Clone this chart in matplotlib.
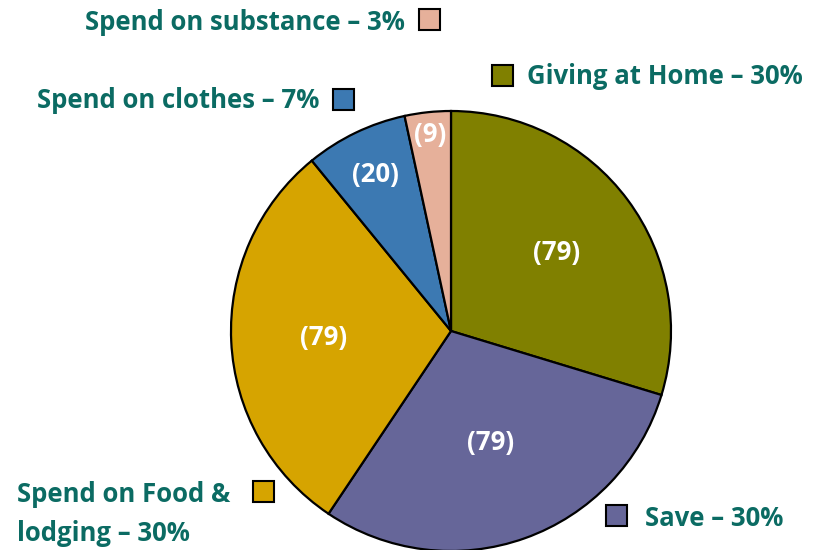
import matplotlib
matplotlib.use("Agg")
import matplotlib.pyplot as plt
from matplotlib.patches import Rectangle
import numpy as np

categories = ["Giving at Home", "Save", "Spend on Food & lodging", "Spend on clothes", "Spend on substance"]
values = [79, 79, 79, 20, 9]
pie_labels = ["(79)", "(79)", "(79)", "(20)", "(9)"]
legend_texts = ["Giving at Home – 30%", "Save – 30%", "Spend on Food &\nlodging – 30%",
                "Spend on clothes – 7%", "Spend on substance – 3%"]
colors = ["#808000", "#666699", "#D6A400", "#3C79B2", "#E6B09A"]

W, H = 834, 550
fig = plt.figure(figsize=(W / 100, H / 100), dpi=100)
plt.rcParams['font.family'] = ['Open Sans', 'DejaVu Sans']

cx, cy, R = 451, 331, 220
ax = fig.add_axes([(cx - R) / W, (H - cy - R) / H, 2 * R / W, 2 * R / H])
wedges, texts = ax.pie(values, colors=colors, startangle=90, counterclock=False,
                       labels=pie_labels, labeldistance=0.6,
                       wedgeprops=dict(edgecolor="black", linewidth=1.6),
                       textprops=dict(color="white", fontsize=18.5, fontweight="bold"))
label_dist = [0.6, 0.54, 0.58, 0.79, 0.9]
for w, t, d in zip(wedges, texts, label_dist):
    ang = np.deg2rad((w.theta1 + w.theta2) / 2)
    t.set_position((d * np.cos(ang), d * np.sin(ang)))
    t.set_ha("center")
    t.set_va("center")
ax.set_xlim(-1, 1)
ax.set_ylim(-1, 1)
ax.set_aspect("equal")
ax.axis("off")

text_color = "#0B6B63"
# (text x px, ha, text center y px, square x px, square y-top px)
layout = {
    0: (527, "left", 77, 492, 65),
    1: (645, "left", 518, 606, 505),
    2: (17, "left", 514, 253, 481),
    3: (319, "right", 101, 333, 89),
    4: (405, "right", 22, 419, 9),
}
sq = 21
for i, (tx, ha, ty, sx, sy) in layout.items():
    fig.text(tx / W, 1 - ty / H, legend_texts[i], ha=ha, va="center",
             fontsize=18.5, fontweight="bold", color=text_color, linespacing=1.55)
    fig.add_artist(Rectangle((sx / W, 1 - (sy + sq) / H), sq / W, sq / H,
                             transform=fig.transFigure, facecolor=colors[i],
                             edgecolor="black", linewidth=1.5))

fig.savefig("out.png", dpi=100)
